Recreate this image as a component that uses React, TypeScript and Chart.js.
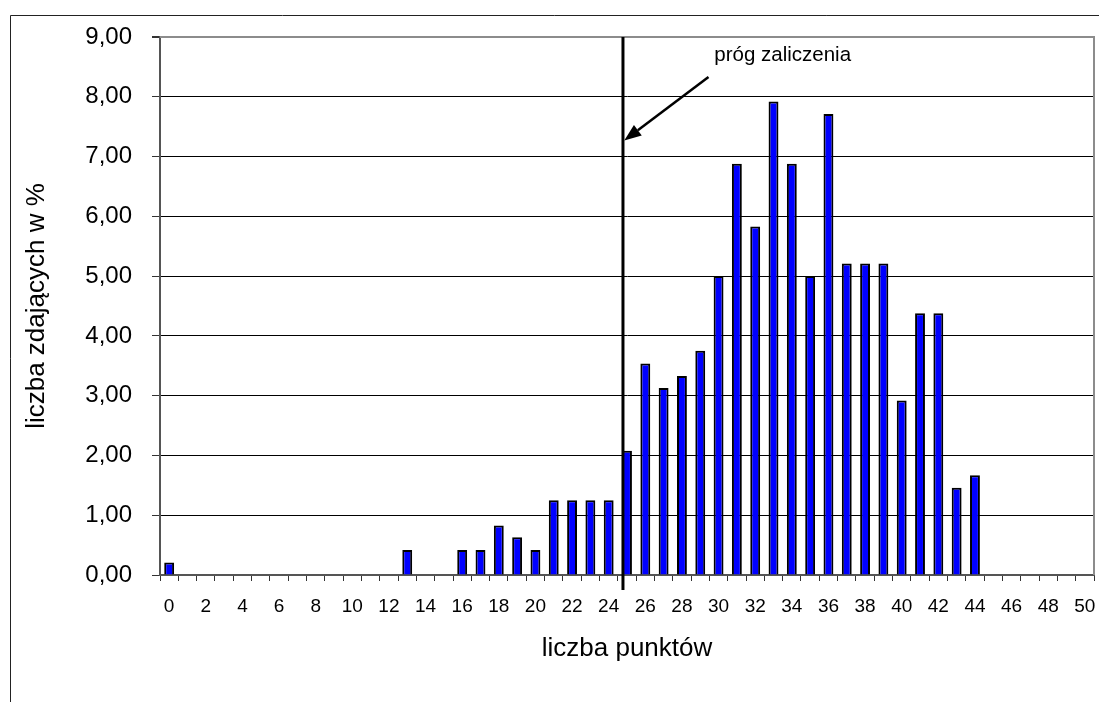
import React, { useEffect, useRef } from 'react';
import { Chart, registerables } from 'chart.js';

Chart.register(...registerables);

const points = [
  '0', '1', '2', '3', '4', '5', '6', '7', '8', '9',
  '10', '11', '12', '13', '14', '15', '16', '17', '18', '19',
  '20', '21', '22', '23', '24', '25', '26', '27', '28', '29',
  '30', '31', '32', '33', '34', '35', '36', '37', '38', '39',
  '40', '41', '42', '43', '44', '45', '46', '47', '48', '49', '50',
];

const shares = [
  0.21, 0, 0, 0, 0, 0, 0, 0, 0, 0,
  0, 0, 0, 0.42, 0, 0, 0.42, 0.42, 0.83, 0.63,
  0.42, 1.25, 1.25, 1.25, 1.25, 2.08, 3.54, 3.13, 3.33, 3.75,
  5.0, 6.88, 5.83, 7.92, 6.88, 5.0, 7.71, 5.21, 5.21, 5.21,
  2.92, 4.38, 4.38, 1.46, 1.67, 0, 0, 0, 0, 0, 0,
];

const yTicks = [0, 1, 2, 3, 4, 5, 6, 7, 8, 9];

const xTitle = 'liczba punktów';
const yTitle = 'liczba zdających w %';
const noteText = 'próg zaliczenia';

// threshold line (in category units) and annotation anchors
const thresholdAt = 24.78;
const arrowTail = { x: 29.45, y: 8.33 };
const arrowTip = { x: 24.85, y: 7.27 };
const noteAt = { x: 33.5, y: 8.6 };

const FONT = "'Liberation Sans', Arial, sans-serif";

const decorPlugin = {
  id: 'decor',
  beforeDraw(chart: any) {
    const ctx = chart.ctx;
    ctx.save();
    ctx.strokeStyle = '#222';
    ctx.lineWidth = 1;
    ctx.beginPath();
    ctx.moveTo(10.5, chart.height);
    ctx.lineTo(10.5, 15.5);
    ctx.lineTo(chart.width, 15.5);
    ctx.stroke();
    ctx.restore();
  },
  afterDraw(chart: any) {
    const ctx = chart.ctx;
    const { chartArea } = chart;
    const x = chart.scales.x;
    const y = chart.scales.y;
    ctx.save();
    // plot area frame (right side, gray)
    ctx.strokeStyle = '#8c8c8c';
    ctx.lineWidth = 2;
    ctx.beginPath();
    ctx.moveTo(chartArea.left, chartArea.top);
    ctx.lineTo(chartArea.right, chartArea.top);
    ctx.lineTo(chartArea.right, chartArea.bottom);
    ctx.stroke();

    // threshold line
    const lx = x.getPixelForValue(thresholdAt);
    ctx.strokeStyle = '#000';
    ctx.lineWidth = 3;
    ctx.beginPath();
    ctx.moveTo(lx, y.getPixelForValue(9));
    ctx.lineTo(lx, y.getPixelForValue(-0.25));
    ctx.stroke();

    // arrow
    const tx = x.getPixelForValue(arrowTail.x);
    const ty = y.getPixelForValue(arrowTail.y);
    const hx = x.getPixelForValue(arrowTip.x);
    const hy = y.getPixelForValue(arrowTip.y);
    const ang = Math.atan2(hy - ty, hx - tx);
    const headLen = 17;
    const headW = 6.5;
    const bx = hx - headLen * Math.cos(ang);
    const by = hy - headLen * Math.sin(ang);
    ctx.lineWidth = 2.5;
    ctx.beginPath();
    ctx.moveTo(tx, ty);
    ctx.lineTo(bx, by);
    ctx.stroke();
    ctx.fillStyle = '#000';
    ctx.beginPath();
    ctx.moveTo(hx, hy);
    ctx.lineTo(bx + headW * Math.sin(ang), by - headW * Math.cos(ang));
    ctx.lineTo(bx - headW * Math.sin(ang), by + headW * Math.cos(ang));
    ctx.closePath();
    ctx.fill();

    // note text
    ctx.font = `20.5px ${FONT}`;
    ctx.textAlign = 'center';
    ctx.textBaseline = 'alphabetic';
    ctx.fillText(noteText, x.getPixelForValue(noteAt.x), y.getPixelForValue(noteAt.y));
    ctx.restore();
  },
};

export default function App() {
  const ref = useRef<HTMLCanvasElement | null>(null);

  useEffect(() => {
    if (!ref.current) return;
    const chart = new Chart(ref.current, {
      type: 'bar',
      data: {
        labels: points,
        datasets: [
          {
            data: shares,
            backgroundColor: '#0000ff',
            borderColor: '#000000',
            borderWidth: 2,
            borderSkipped: 'start',
            barPercentage: 0.54,
            categoryPercentage: 1,
          },
        ],
      },
      options: {
        responsive: false,
        animation: false,
        devicePixelRatio: 1,
        layout: { padding: { left: 0, top: 37, right: 5, bottom: 0 } },
        plugins: {
          legend: { display: false },
          tooltip: { enabled: false },
          title: { display: false },
        },
        scales: {
          x: {
            type: 'category',
            afterFit: (s: any) => {
              s.height = 127;
              s.paddingLeft = 0;
              s.paddingRight = 0;
            },
            grid: {
              display: true,
              drawOnChartArea: false,
              drawTicks: true,
              tickLength: 6,
              offset: true,
              tickColor: '#333',
              tickWidth: 1,
            },
            border: { display: true, color: '#555', width: 2 },
            ticks: {
              autoSkip: false,
              maxRotation: 0,
              minRotation: 0,
              padding: 14,
              color: '#000',
              font: { family: FONT, size: 19 },
              callback: (_v: any, i: number) => (i % 2 === 0 ? points[i] : ''),
            },
            title: {
              display: true,
              text: xTitle,
              color: '#000',
              font: { family: FONT, size: 26 },
              padding: { top: 0, bottom: 38 },
            },
          },
          y: {
            type: 'linear',
            min: 0,
            max: 9,
            afterFit: (s: any) => {
              s.width = 160;
            },
            afterBuildTicks: (s: any) => {
              s.ticks = yTicks.map((v) => ({ value: v }));
            },
            grid: {
              display: true,
              drawOnChartArea: true,
              drawTicks: true,
              tickLength: 8,
              color: (c: any) => (c.tick && c.tick.value === 9 ? '#8c8c8c' : '#000'),
              lineWidth: (c: any) => (c.tick && c.tick.value === 9 ? 2 : 1),
              tickColor: '#333',
            },
            border: { display: true, color: '#555', width: 2 },
            ticks: {
              padding: 20,
              color: '#000',
              font: { family: FONT, size: 24 },
              callback: (v: any) => Number(v).toFixed(2).replace('.', ','),
            },
            title: {
              display: true,
              text: yTitle,
              color: '#000',
              font: { family: FONT, size: 26 },
              padding: { top: 21, bottom: 0 },
            },
          },
        },
      },
      plugins: [decorPlugin],
    });
    return () => chart.destroy();
  }, []);

  return (
    <div style={{ position: 'absolute', left: 0, top: 0, width: 1099, height: 702, background: '#fff' }}>
      <canvas ref={ref} width={1099} height={702} style={{ display: 'block' }} />
    </div>
  );
}
